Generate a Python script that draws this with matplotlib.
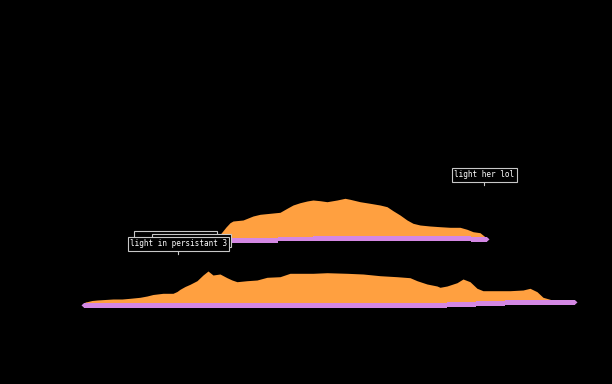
import numpy as np
import matplotlib.pyplot as plt

# lower ridge: time step vs. height of the orange layer
low_t = [0, 2, 7, 12, 20, 28, 37, 45, 55, 62, 68, 78, 88, 92, 95, 100, 105, 112,
         118, 123, 128, 135, 142, 147, 152, 162, 172, 182, 195, 205, 215, 228,
         242, 252, 262, 278, 295, 312, 325, 332, 342, 352, 355, 362, 372, 378,
         385, 392, 398, 412, 425, 438, 445, 452, 458, 465, 467]
low_h = [2, 2.3, 3.5, 4, 4.5, 5, 5, 5.7, 6.7, 8, 9.5, 10.7, 10.7, 12.5, 14.7,
         17.5, 19.7, 23.3, 29, 33, 29, 30, 26.3, 24, 22.3, 23.3, 24, 26.7, 27.3,
         30.7, 30.7, 30.7, 31.3, 31, 30.7, 30, 28.3, 27.3, 26.3, 23.3, 20, 18,
         16.7, 18, 21.3, 25, 22.3, 15.7, 13.3, 13.3, 13.3, 14, 15.7, 12.3, 6.7,
         4.7, 4]

# upper ridge
up_t = [133, 137, 141, 145, 148, 158, 163, 168, 175, 185, 195, 202, 208, 215,
        222, 228, 235, 242, 252, 260, 265, 275, 285, 295, 302, 308, 315, 322,
        328, 335, 345, 355, 365, 375, 382, 388, 395, 400, 403]
up_h = [2, 7, 12, 16.3, 18, 19, 21, 23, 24.7, 25.7, 26.7, 30.7, 34, 36.3, 38,
        39, 38.3, 37.3, 39, 40.7, 39.7, 37.3, 35.7, 34, 32.3, 28.3, 24, 19,
        15.7, 14, 13, 12.3, 11.7, 11.7, 9.7, 7.3, 6.3, 2.3, 0]

# purple base bands (segment edges and band bottom level)
low_band_t = [-1, 362, 391, 420, 490]
low_band_lv = [-3.7, -2.7, -1.7, -0.7]
up_band_t = [131, 193, 228, 386, 402]
up_band_lv = [-3.7, -2.3, -1.5, -2.7]

# labels (the two back ones are hidden under the front label, only their frames show)
lab_text = [" " * 17, " " * 16, "light in persistant 3", "light her lol"]
lab_t = [90.5, 106.5, 93.5, 399.5]
lab_y = [55.6, 52.6, 49.3, 118.3]

ORANGE = '#ffa040'
PURPLE = '#d488e4'
UP_OFF = 65
BAND = 4.6

fig = plt.figure(figsize=(6.12, 3.84), dpi=100, facecolor='black')
ax = fig.add_axes([0, 0, 1, 1])
ax.set_facecolor('black')
ax.set_xlim(-85, 527)
ax.set_ylim(-80, 304)
ax.axis('off')


def ridge(t, h, bt, blv, off):
    t = np.array(t)
    h = np.array(h) + off
    ax.fill_between(t, off, h, color=ORANGE, lw=0, zorder=2)
    bt = np.array(bt)
    lv = np.array(blv + [blv[-1]]) + off
    ax.fill_between(bt, lv, lv + BAND, step='post', color=PURPLE, lw=0, zorder=3)
    # small pointed ends
    m0 = lv[0] + BAND / 2
    m1 = lv[-1] + BAND / 2
    ax.fill([bt[0], bt[0] - 2.5, bt[0]], [lv[0], m0, lv[0] + BAND], color=PURPLE, lw=0, zorder=3)
    ax.fill([bt[-1], bt[-1] + 2.5, bt[-1]], [lv[-1], m1, lv[-1] + BAND], color=PURPLE, lw=0, zorder=3)


ridge(low_t, low_h, low_band_t, low_band_lv, 0)
ridge(up_t, up_h, up_band_t, up_band_lv, UP_OFF)

for i, (txt, t, y) in enumerate(zip(lab_text, lab_t, lab_y)):
    ax.annotate(txt, xy=(t, y), xytext=(0, 4.6), textcoords='offset points',
                ha='center', va='bottom', color='white', fontsize=5.5,
                family='DejaVu Sans Mono', zorder=5 + i,
                bbox=dict(boxstyle='square,pad=0.3', fc='black', ec='#c8c8c8', lw=0.8),
                arrowprops=dict(arrowstyle='-', color='#c8c8c8', lw=0.8,
                                shrinkA=0, shrinkB=0))

fig.savefig('out.png', dpi=100, facecolor='black')
